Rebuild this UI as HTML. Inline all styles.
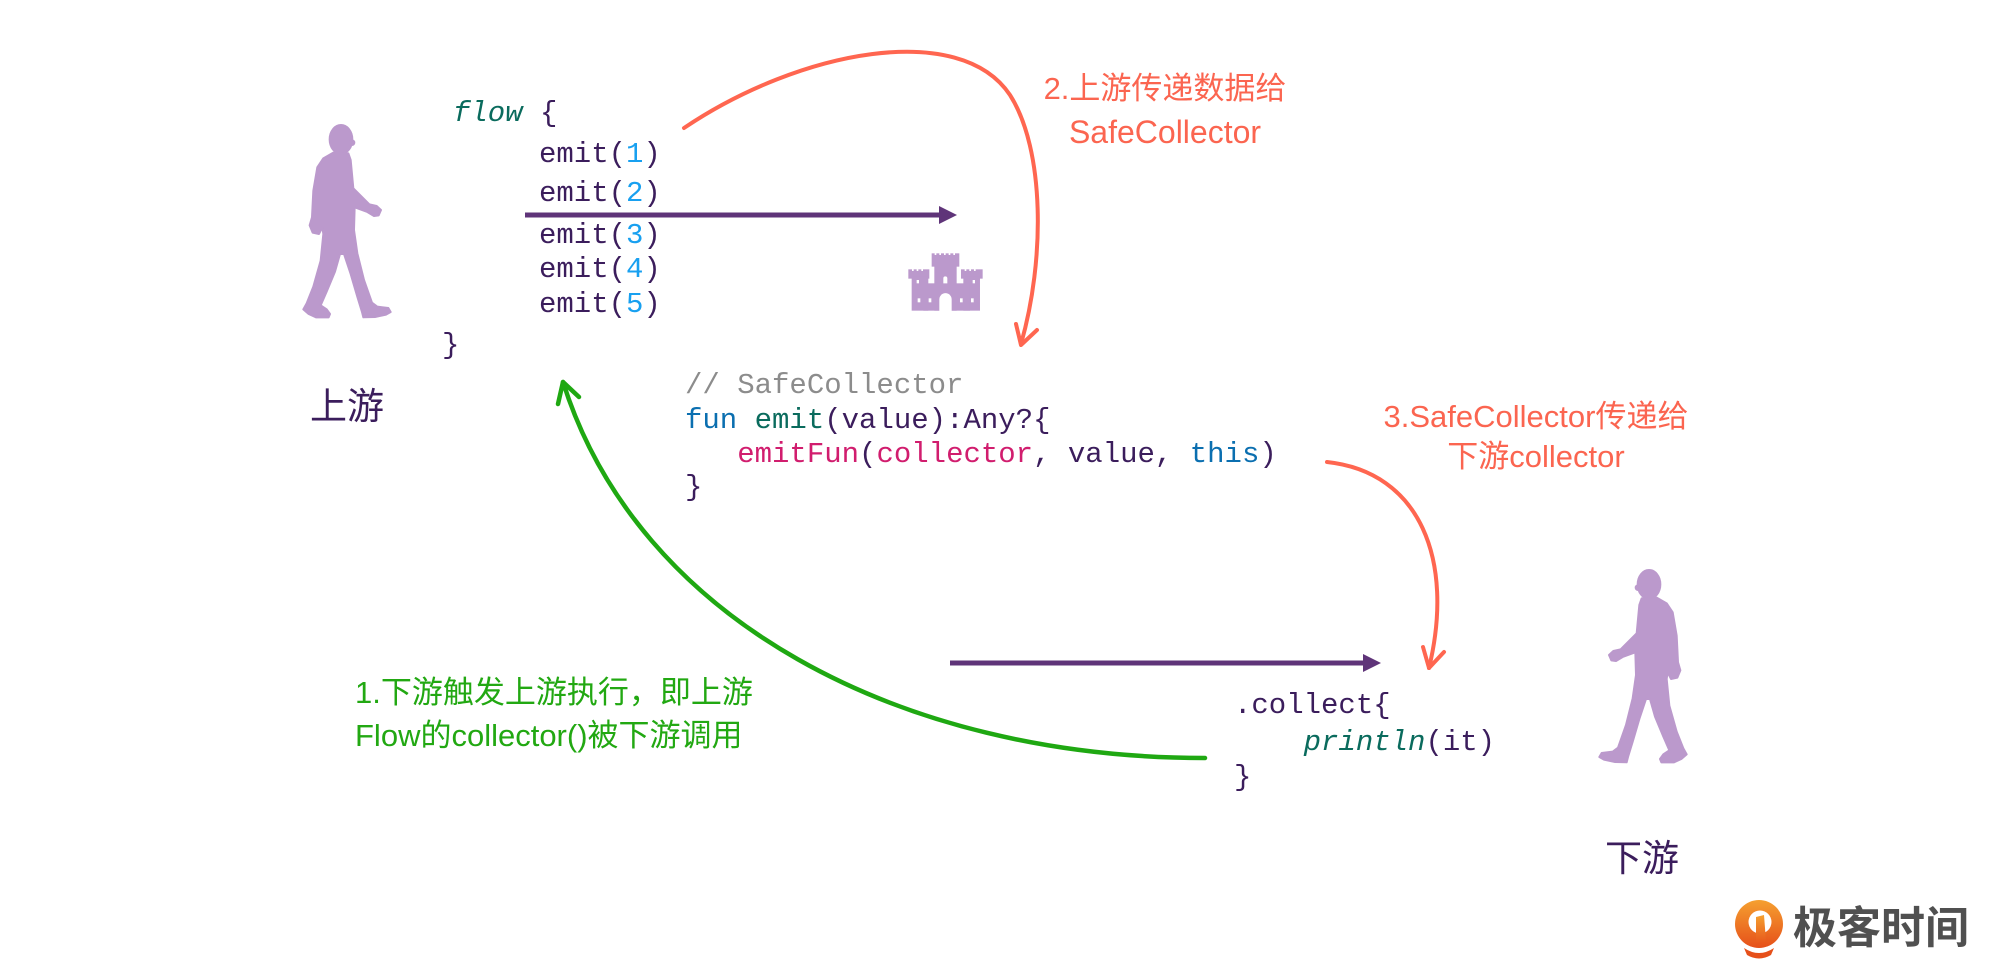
<!DOCTYPE html>
<html>
<head>
<meta charset="utf-8">
<style>
  html, body { margin: 0; padding: 0; background: #ffffff; }
  body { width: 2000px; height: 980px; overflow: hidden; }
  svg { display: block; }
  .mono { font-family: "Liberation Mono", "DejaVu Sans Mono", monospace; font-size: 29px; white-space: pre; }
  .lbl { font-family: "Liberation Sans", "Noto Sans CJK SC", sans-serif; white-space: pre; }
</style>
</head>
<body>
<svg width="2000" height="980" viewBox="0 0 2000 980" xmlns="http://www.w3.org/2000/svg" xml:space="preserve">
  <rect width="2000" height="980" fill="#ffffff"/>

  <!-- Person 1 (upstream, walking right) -->
  <g transform="translate(280,110) scale(0.3333)" fill="#bb99cc" stroke="#bb99cc" stroke-width="6" stroke-linejoin="round">
    <ellipse cx="183" cy="88" rx="34" ry="43"/>
    <circle cx="216" cy="98" r="7"/>
    <path d="M160,128 L205,130 L212,150 L220,235 L268,283 L290,288 L303,300 L296,316 L282,318 L262,306 L224,292 L222,360 L232,430 L252,510 L276,578 L292,590 L325,594 L332,606 L318,614 L285,621 L250,622 L246,606 L232,560 L212,492 L192,432 L180,432 L165,485 L140,545 L122,586 L140,598 L150,612 L146,622 L108,622 L86,612 L70,598 L80,580 L100,530 L122,452 L130,372 L127,352 L117,372 L98,368 L89,346 L96,322 L100,242 L112,172 L130,145 Z"/>
  </g>

  <!-- Person 2 (downstream, walking left) -->
  <g transform="translate(1710,555) scale(-0.3333,0.3333)" fill="#bb99cc" stroke="#bb99cc" stroke-width="6" stroke-linejoin="round">
    <ellipse cx="183" cy="88" rx="34" ry="43"/>
    <circle cx="216" cy="98" r="7"/>
    <path d="M160,128 L205,130 L212,150 L220,235 L268,283 L290,288 L303,300 L296,316 L282,318 L262,306 L224,292 L222,360 L232,430 L252,510 L276,578 L292,590 L325,594 L332,606 L318,614 L285,621 L250,622 L246,606 L232,560 L212,492 L192,432 L180,432 L165,485 L140,545 L122,586 L140,598 L150,612 L146,622 L108,622 L86,612 L70,598 L80,580 L100,530 L122,452 L130,372 L127,352 L117,372 L98,368 L89,346 L96,322 L100,242 L112,172 L130,145 Z"/>
  </g>

  <!-- Castle -->
  <g transform="translate(890,240) scale(0.3333)">
    <g fill="#bb99cc">
      <rect x="125" y="40" width="83" height="40"/>
      <rect x="133" y="70" width="67" height="142"/>
      <rect x="55" y="88" width="63" height="28"/>
      <rect x="65" y="110" width="50" height="102"/>
      <rect x="213" y="88" width="65" height="28"/>
      <rect x="220" y="110" width="50" height="102"/>
      <rect x="100" y="130" width="140" height="82"/>
    </g>
    <g fill="#ffffff">
      <rect x="134" y="38" width="5" height="7"/>
      <rect x="148" y="38" width="5" height="7"/>
      <rect x="162" y="38" width="5" height="7"/>
      <rect x="176" y="38" width="5" height="7"/>
      <rect x="190" y="38" width="5" height="7"/>
      <rect x="66" y="86" width="5" height="7"/>
      <rect x="80" y="86" width="5" height="7"/>
      <rect x="94" y="86" width="5" height="7"/>
      <rect x="224" y="86" width="5" height="7"/>
      <rect x="238" y="86" width="5" height="7"/>
      <rect x="252" y="86" width="5" height="7"/>
      <path d="M148,214 V178 A18.5,18.5 0 0 1 185,178 V214 Z"/>
      <path d="M160,130 V115 A6,6 0 0 1 172,115 V130 Z"/>
      <rect x="83" y="175" width="8" height="12"/>
      <rect x="116" y="175" width="8" height="12"/>
      <rect x="210" y="175" width="8" height="12"/>
      <rect x="243" y="175" width="8" height="12"/>
      <rect x="80" y="120" width="7" height="10"/>
      <rect x="248" y="120" width="7" height="10"/>
    </g>
  </g>

  <!-- Purple arrows -->
  <line x1="525" y1="215" x2="944" y2="215" stroke="#5f3479" stroke-width="5"/>
  <polygon points="939,206 957,215 939,224" fill="#5f3479"/>
  <line x1="950" y1="663" x2="1368" y2="663" stroke="#5f3479" stroke-width="5"/>
  <polygon points="1363,654 1381,663 1363,672" fill="#5f3479"/>

  <!-- Coral arrow 2 -->
  <path d="M684,128 C800,50 960,20 1010,95 C1045,150 1045,260 1021,344" fill="none" stroke="#ff6650" stroke-width="4" stroke-linecap="round"/>
  <path d="M1016,324 L1021,345 L1037,330" fill="none" stroke="#ff6650" stroke-width="4" stroke-linecap="round" stroke-linejoin="round"/>

  <!-- Coral arrow 3 -->
  <path d="M1327,462 C1420,472 1455,560 1429,668" fill="none" stroke="#ff6650" stroke-width="4" stroke-linecap="round"/>
  <path d="M1423,647 L1429,668 L1444,652" fill="none" stroke="#ff6650" stroke-width="4" stroke-linecap="round" stroke-linejoin="round"/>

  <!-- Green arrow 1 -->
  <path d="M1205,758 C900,758 638,620 563,382" fill="none" stroke="#1fa812" stroke-width="4.5" stroke-linecap="round"/>
  <path d="M558,404 L563,382 L579,397" fill="none" stroke="#1fa812" stroke-width="4.5" stroke-linecap="round" stroke-linejoin="round"/>

  <!-- Top code block -->
  <text class="mono" x="453" y="121"><tspan fill="#0a6b5d" font-style="italic">flow</tspan><tspan fill="#3b1d5c"> {</tspan></text>
  <text class="mono" x="539" y="162" fill="#3b1d5c">emit(<tspan fill="#18a0f0">1</tspan>)</text>
  <text class="mono" x="539" y="201" fill="#3b1d5c">emit(<tspan fill="#18a0f0">2</tspan>)</text>
  <text class="mono" x="539" y="243" fill="#3b1d5c">emit(<tspan fill="#18a0f0">3</tspan>)</text>
  <text class="mono" x="539" y="277" fill="#3b1d5c">emit(<tspan fill="#18a0f0">4</tspan>)</text>
  <text class="mono" x="539" y="312" fill="#3b1d5c">emit(<tspan fill="#18a0f0">5</tspan>)</text>
  <text class="mono" x="442" y="353" fill="#3b1d5c">}</text>

  <!-- Middle code block -->
  <text class="mono" x="685" y="393" fill="#8c8c8c">// SafeCollector</text>
  <text class="mono" x="685" y="428"><tspan fill="#0b6fb0">fun</tspan><tspan fill="#3b1d5c"> </tspan><tspan fill="#0a6b5d">emit</tspan><tspan fill="#3b1d5c">(value):Any?{</tspan></text>
  <text class="mono" x="685" y="462"><tspan fill="#3b1d5c">   </tspan><tspan fill="#d11d6e">emitFun</tspan><tspan fill="#3b1d5c">(</tspan><tspan fill="#d11d6e">collector</tspan><tspan fill="#3b1d5c">, value, </tspan><tspan fill="#0b6fb0">this</tspan><tspan fill="#3b1d5c">)</tspan></text>
  <text class="mono" x="685" y="495" fill="#3b1d5c">}</text>

  <!-- Collect block -->
  <text class="mono" x="1234" y="713" fill="#3b1d5c">.collect{</text>
  <text class="mono" x="1234" y="750"><tspan fill="#3b1d5c">    </tspan><tspan fill="#0a6b5d" font-style="italic">println</tspan><tspan fill="#3b1d5c">(it)</tspan></text>
  <text class="mono" x="1234" y="785" fill="#3b1d5c">}</text>

  <!-- Labels -->
  <text class="lbl" x="310" y="419" font-size="37" fill="#3b1d5c">上游</text>
  <text class="lbl" x="1605" y="871" font-size="37" fill="#3b1d5c">下游</text>

  <text class="lbl" x="1165" y="99" font-size="31" fill="#fb6550" text-anchor="middle">2.上游传递数据给</text>
  <text class="lbl" x="1165" y="143" font-size="32" fill="#fb6550" text-anchor="middle">SafeCollector</text>

  <text class="lbl" x="1536" y="427" font-size="31" fill="#fb6550" text-anchor="middle">3.SafeCollector传递给</text>
  <text class="lbl" x="1536" y="467" font-size="31" fill="#fb6550" text-anchor="middle">下游collector</text>

  <text class="lbl" x="355" y="703" font-size="31" fill="#22a812">1.下游触发上游执行，即上游</text>
  <text class="lbl" x="355" y="746" font-size="31" fill="#22a812">Flow的collector()被下游调用</text>

  <!-- Logo -->
  <defs>
    <linearGradient id="lg" x1="0" y1="0" x2="0" y2="1">
      <stop offset="0" stop-color="#f5a030"/>
      <stop offset="1" stop-color="#e6501a"/>
    </linearGradient>
  </defs>
  <circle cx="1759" cy="924" r="24" fill="url(#lg)"/>
  <circle cx="1760" cy="922" r="11.5" fill="#ffffff"/>
  <path d="M1756,917 L1764,915 L1766,941 L1756,946 Z" fill="url(#lg)"/>
  <path d="M1744,948 Q1759,958 1774,948 L1771,955 Q1759,962 1747,955 Z" fill="#e6501a"/>
  <text x="1793" y="943" font-family="'Noto Sans CJK SC', sans-serif" font-size="44" font-weight="bold" fill="#505050">极客时间</text>
</svg>
</body>
</html>
